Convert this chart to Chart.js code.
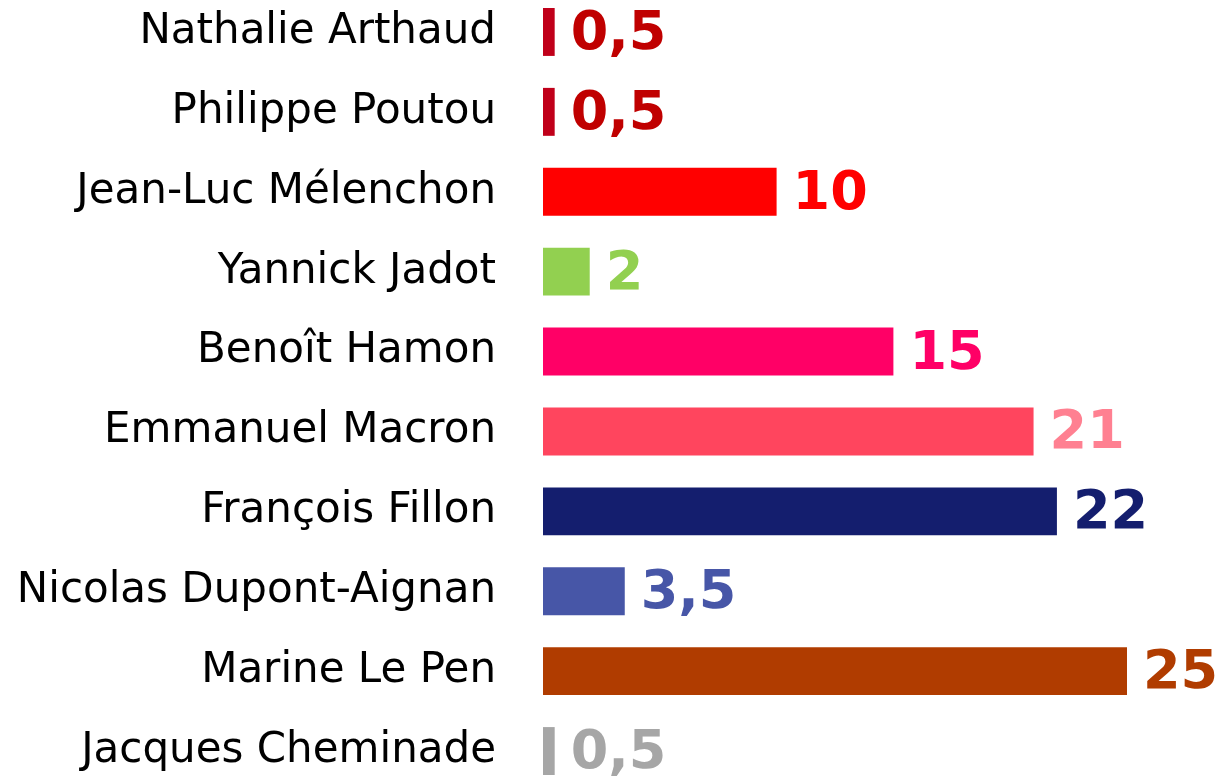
<!DOCTYPE html>
<html>
<head>
<meta charset="utf-8">
<script src="https://cdn.jsdelivr.net/npm/chart.js@4"></script>
<style>
  body { margin: 0; background: #fff; }
  #cadre { width: 1220px; height: 781px; overflow: hidden; }
  #wrap { width: 1220px; height: 799px; margin-top: -8px; }
</style>
</head>
<body>
<div id="cadre"><div id="wrap"><canvas id="grafico"></canvas></div></div>
<script>
const candidats = ['Nathalie Arthaud', 'Philippe Poutou', 'Jean-Luc Mélenchon', 'Yannick Jadot', 'Benoît Hamon',
    'Emmanuel Macron', 'François Fillon', 'Nicolas Dupont-Aignan', 'Marine Le Pen', 'Jacques Cheminade']
const scores = [0.5, 0.5, 10, 2, 15, 21, 22, 3.5, 25, 0.5]
const couleursBarres = ['#c0001a', '#c0001a', '#ff0000', '#92d050', '#ff0066', '#ff455e', '#141e6e', '#4756a7', '#b03c00', '#a6a6a6']
const couleursTextes = ['#c00000', '#c00000', '#ff0000', '#92d050', '#ff0066', '#ff8091', '#141e6e', '#4756a7', '#b03c00', '#a6a6a6']

// etiquettes de valeur a droite des barres
const etiquettes = {
    id: 'etiquettes',
    afterDatasetsDraw(chart) {
        const c = chart.ctx
        const meta = chart.getDatasetMeta(0)
        c.save()
        c.font = 'bold 54px "DejaVu Sans"'
        c.textBaseline = 'middle'
        c.textAlign = 'left'
        meta.data.forEach((bar, i) => {
            c.fillStyle = couleursTextes[i]
            c.fillText(String(scores[i]).replace('.', ','), bar.x + 16, bar.y + 3)
        })
        c.restore()
    }
}

const grafico = new Chart(document.getElementById('grafico'), {
    type: 'bar',
    data: {
        labels: candidats,
        datasets: [{
            data: scores,
            backgroundColor: couleursBarres,
            borderWidth: 0,
            barPercentage: 0.6,
            categoryPercentage: 1,
            clip: false
        }]
    },
    options: {
        indexAxis: 'y',
        responsive: true,
        maintainAspectRatio: false,
        animation: false,
        layout: { padding: { left: 0, right: 93, top: 0, bottom: 0 } },
        plugins: { legend: { display: false }, tooltip: { enabled: false } },
        scales: {
            x: { display: false, min: 0, max: 25 },
            y: {
                grid: { display: false },
                border: { display: false },
                ticks: {
                    padding: 39,
                    color: '#000',
                    font: { family: 'DejaVu Sans', size: 42 }
                },
                afterFit(scale) {
                    scale.width = 543
                    scale.paddingTop = 0
                    scale.paddingBottom = 0
                }
            }
        }
    },
    plugins: [etiquettes]
})
</script>
</body>
</html>
